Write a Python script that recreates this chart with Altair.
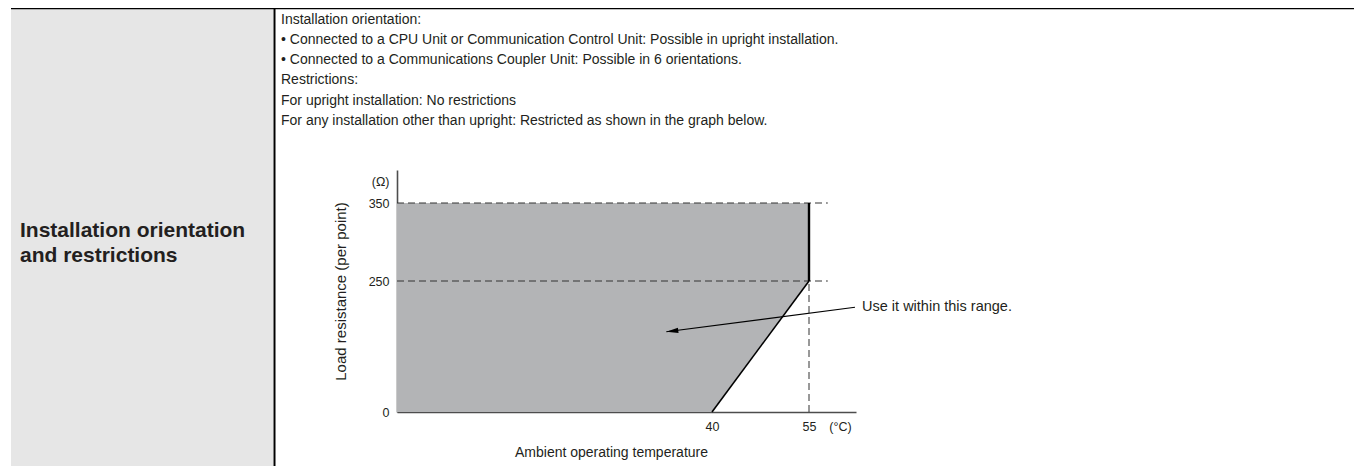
import altair as alt
import pandas as pd

# ---- data ----
temps = [0, 40, 55]            # ambient temperature (°C), left edge of axis = 0
upper_res = [350, 350, 350]    # upper limit of allowed region (Ω)
lower_res = [0, 0, 250]        # lower boundary of allowed region (Ω)
x_tick_values = [40, 55]
y_tick_values = [0, 250, 350]
x_domain = [0, 40, 55, 62]     # schematic (piecewise) temperature axis
y_domain = [0, 250, 350, 392]  # schematic (piecewise) resistance axis
desc_lines = [
    "Installation orientation:",
    "\u00a0\u00a0•\u00a0Connected to a CPU Unit or Communication Control Unit: Possible in upright installation.",
    "\u00a0\u00a0•\u00a0Connected to a Communications Coupler Unit: Possible in 6 orientations.",
    "Restrictions:",
    "For upright installation: No restrictions",
    "For any installation other than upright: Restricted as shown in the graph below.",
]
row_label = ["Installation orientation", "and restrictions"]
note_text = "Use it within this range."

# ---- layout (pixels) ----
W, H = 459, 242
x_range = [0, 315, 412, W]
y_range = [H, 111, 33, 0]
FONT = "Liberation Sans"
TXT = "#231f20"

region = pd.DataFrame({"t": temps, "hi": upper_res, "lo": lower_res})
one = pd.DataFrame({"a": [0]})

xs = alt.Scale(domain=x_domain, range=x_range, zero=False, nice=False)
ys = alt.Scale(domain=y_domain, range=y_range, zero=False, nice=False)

x_axis = alt.Axis(values=x_tick_values + [59.6], labelExpr="datum.value > 58 ? '(°C)' : datum.label",
                  title="Ambient operating temperature", titleX=214, titleY=33,
                  titleFontWeight="normal", titleFontSize=14, titleColor=TXT,
                  ticks=False, tickSize=0, grid=False, labelPadding=8, labelFontSize=12.5,
                  labelColor=TXT, labelFlush=False, labelOverlap=False,
                  domainColor="#4d4d4d", domainWidth=1.6)
y_axis = alt.Axis(values=y_tick_values + [377], labelExpr="datum.value > 370 ? '(Ω)' : datum.label",
                  title="Load resistance (per point)", titleX=-57, titleY=H / 2, titleAngle=-90,
                  titleBaseline="middle", titleAlign="center",
                  titleFontWeight="normal", titleFontSize=15, titleColor=TXT,
                  ticks=False, tickSize=0, grid=False, labelPadding=8, labelFontSize=12.5,
                  labelColor=TXT, labelFlush=False, labelOverlap=False,
                  domainColor="#4d4d4d", domainWidth=1.6)

area = alt.Chart(region).mark_area(color="#b3b4b6", opacity=1).encode(
    x=alt.X("t:Q", scale=xs, axis=x_axis),
    y=alt.Y("hi:Q", scale=ys, axis=y_axis),
    y2="lo:Q",
)

# dashed reference lines
dash_h = pd.DataFrame({"x1": [0, 0], "x2": [57.8, 57.8], "y": [350, 250]})
dashed_h = alt.Chart(dash_h).mark_rule(color="#333333", strokeWidth=1, strokeDash=[7, 4]).encode(
    x=alt.X("x1:Q", scale=xs), x2="x2:Q", y=alt.Y("y:Q", scale=ys))
dash_v = pd.DataFrame({"x": [55], "y1": [0], "y2": [250]})
dashed_v = alt.Chart(dash_v).mark_rule(color="#333333", strokeWidth=1, strokeDash=[7, 4]).encode(
    x=alt.X("x:Q", scale=xs), y=alt.Y("y1:Q", scale=ys), y2="y2:Q")

# solid boundary lines
diag = pd.DataFrame({"x1": [40], "y1": [0], "x2": [55], "y2": [250]})
diag_line = alt.Chart(diag).mark_rule(color="#000000", strokeWidth=1.6).encode(
    x=alt.X("x1:Q", scale=xs), y=alt.Y("y1:Q", scale=ys), x2="x2:Q", y2="y2:Q")
vert = pd.DataFrame({"x": [55], "y1": [250], "y2": [350]})
vert_line = alt.Chart(vert).mark_rule(color="#000000", strokeWidth=2.4).encode(
    x=alt.X("x:Q", scale=xs), y=alt.Y("y1:Q", scale=ys), y2="y2:Q")

# annotation arrow
arrow_df = pd.DataFrame({"x1": [61.85], "y1": [200], "x2": [34.2], "y2": [153]})
arrow_line = alt.Chart(arrow_df).mark_rule(color="#000000", strokeWidth=1.1).encode(
    x=alt.X("x1:Q", scale=xs), y=alt.Y("y1:Q", scale=ys), x2="x2:Q", y2="y2:Q")
arrow_head = alt.Chart(arrow_df).mark_point(
    shape="M0,0L2,-0.45L2,0.45Z", filled=True, color="#000000", opacity=1, size=144, angle=352.8,
    strokeWidth=0).encode(x=alt.X("x2:Q", scale=xs), y=alt.Y("y2:Q", scale=ys))
note_df = pd.DataFrame({"x": [62.9], "y": [200], "label": [note_text]})
note = alt.Chart(note_df).mark_text(align="left", baseline="middle", fontSize=14.5, color=TXT, font=FONT).encode(
    x=alt.X("x:Q", scale=xs), y=alt.Y("y:Q", scale=ys), text="label:N")

# table decoration
cell_bg = alt.Chart(one).mark_rect(color="#e6e6e6").encode(
    x=alt.value(-386), x2=alt.value(-124), y=alt.value(-161), y2=alt.value(300))
top_border = alt.Chart(one).mark_rule(color="#000000", strokeWidth=1.5).encode(
    x=alt.value(-386), x2=alt.value(960), y=alt.value(-161.5))
mid_border = alt.Chart(one).mark_rule(color="#000000", strokeWidth=2).encode(
    x=alt.value(-122.5), y=alt.value(-162), y2=alt.value(300))
desc = alt.Chart(one).mark_text(text=desc_lines, align="left", baseline="top", fontSize=14,
                                lineHeight=20.3, color=TXT, font=FONT).encode(
    x=alt.value(-116), y=alt.value(-157.5))
label = alt.Chart(one).mark_text(text=row_label, align="left", baseline="top", fontSize=21,
                                 fontWeight="bold", lineHeight=25, color=TXT, font=FONT).encode(
    x=alt.value(-377), y=alt.value(50))

chart = alt.layer(
    cell_bg, top_border, mid_border, desc, label,
    area, dashed_h, dashed_v, diag_line, vert_line, arrow_line, arrow_head, note,
).properties(
    width=W, height=H,
    padding={"left": 389, "top": 162, "right": 498, "bottom": 54},
    autosize=alt.AutoSizeParams(type="none"),
).configure(font=FONT).configure_view(strokeWidth=0, stroke="transparent")

chart.save("out.html", embed_options={"renderer": "svg", "actions": False})
